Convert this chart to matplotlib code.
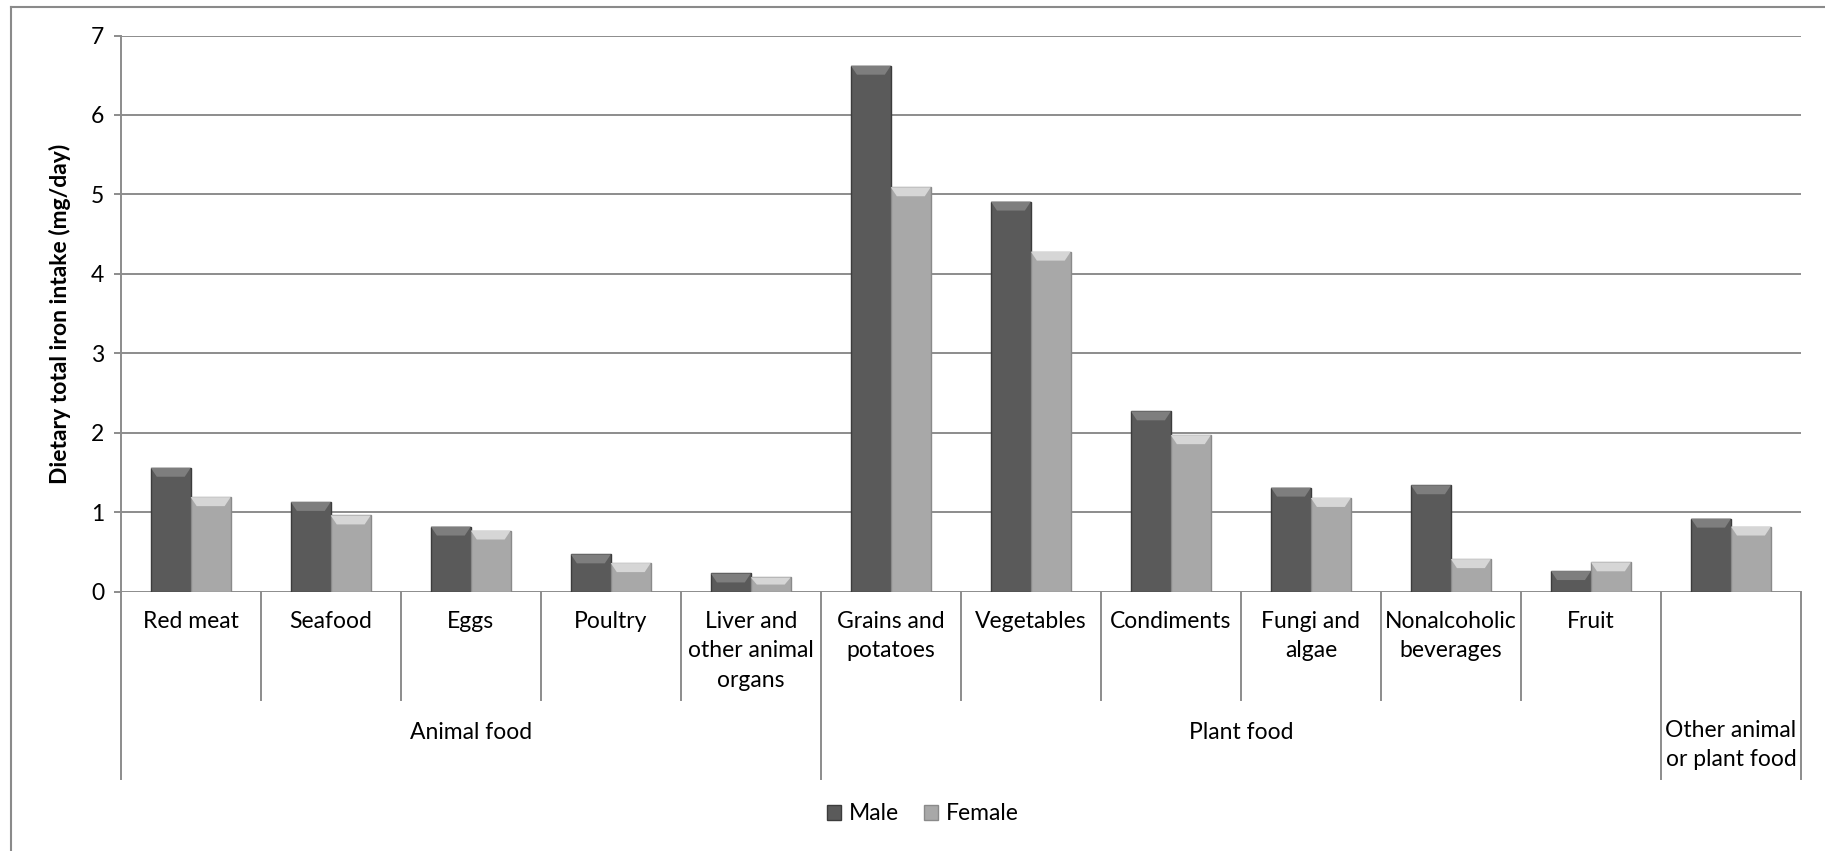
import numpy as np
import matplotlib.pyplot as plt
from matplotlib.patches import Patch, Polygon
from matplotlib.lines import Line2D

plt.rcParams['font.family'] = ['Lato', 'DejaVu Sans']

# Iron intake by food source (mg/day)
categories = ['Red meat', 'Seafood', 'Eggs', 'Poultry', 'Liver and\nother animal\norgans',
              'Grains and\npotatoes', 'Vegetables', 'Condiments', 'Fungi and\nalgae',
              'Nonalcoholic\nbeverages', 'Fruit', '']
male = [1.56, 1.13, 0.82, 0.47, 0.23, 6.62, 4.91, 2.27, 1.31, 1.34, 0.26, 0.92]
female = [1.19, 0.96, 0.77, 0.36, 0.18, 5.09, 4.28, 1.97, 1.18, 0.41, 0.37, 0.82]
groups = ['Animal food', 'Plant food', 'Other animal\nor plant food']
group_sizes = [5, 6, 1]
y_ticks = [0, 1, 2, 3, 4, 5, 6, 7]

FS = 16.5
W, H = 1825, 851
fig = plt.figure(figsize=(W / 100, H / 100), dpi=100)
ax = fig.add_axes([120.7 / W, 1 - 591.7 / H, (1801 - 120.7) / W, (591.7 - 35.5) / H])

grid_c = '#8c8c8c'
x = np.arange(len(categories))
bw = 0.285

def bevel_bars(xs, vals, face, edge, top):
    bars = ax.bar(xs, vals, bw, color=face, edgecolor=edge, linewidth=1.0, zorder=3)
    # lighter bevel on the top face of each bar
    bh = 9 / 79.5
    inset = 6 / 140.2
    for b in bars:
        x0 = b.get_x()
        x1 = x0 + b.get_width()
        t = b.get_height()
        h = min(bh, t * 0.5)
        ax.add_patch(Polygon([(x0, t), (x1, t), (x1 - inset, t - h), (x0 + inset, t - h)],
                             closed=True, facecolor=top, edgecolor='none', zorder=4))
    return bars

bevel_bars(x - bw / 2, male, '#5a5a5a', '#3c3c3c', '#7e7e7e')
bevel_bars(x + bw / 2, female, '#a8a8a8', '#8a8a8a', '#d6d6d6')

ax.set_xlim(-0.5, len(categories) - 0.5)
ax.set_ylim(0, 7)
ax.set_yticks(y_ticks)
ax.set_yticklabels([str(v) for v in y_ticks], fontsize=FS)
ax.yaxis.grid(True, color=grid_c, linewidth=1.4, zorder=0)
ax.set_axisbelow(True)
ax.set_xticks([])
for s in ['top', 'right', 'bottom']:
    ax.spines[s].set_visible(False)
ax.spines['left'].set_color(grid_c)
ax.spines['left'].set_linewidth(1.4)
ax.tick_params(axis='y', direction='out', length=5, width=1.4, color=grid_c, pad=7)
ax.set_ylabel('Dietary total iron intake (mg/day)', fontsize=FS, fontweight='bold', labelpad=14)

# multi-level category axis below the plot
ax_h = 591.7 - 35.5
def below(px):
    return -px / ax_h

tr = ax.get_xaxis_transform()
bounds = np.cumsum([0] + group_sizes)
for b in range(len(categories) + 1):
    end = 187 if b in bounds else 108
    ax.plot([b - 0.5, b - 0.5], [0, below(end)], transform=tr, color=grid_c,
            linewidth=1.4, clip_on=False)

for i, lab in enumerate(categories):
    ax.text(i, below(19), lab, transform=tr, ha='center', va='top', fontsize=FS,
            linespacing=1.5, clip_on=False)

for g, lab in enumerate(groups):
    mid = (bounds[g] + bounds[g + 1] - 1) / 2
    ax.text(mid, below(141 if '\n' not in lab else 128), lab, transform=tr,
            ha='center', va='center' if '\n' not in lab else 'top', fontsize=FS,
            linespacing=1.5, clip_on=False)

handles = [Patch(facecolor='#5a5a5a', edgecolor='#3c3c3c', label='Male'),
           Patch(facecolor='#a8a8a8', edgecolor='#8a8a8a', label='Female')]
fig.legend(handles=handles, loc='center', bbox_to_anchor=(923 / W, 1 - 814 / H), ncol=2,
           frameon=False, fontsize=FS, handlelength=0.6, handleheight=0.6,
           handletextpad=0.35, columnspacing=1.1)

# outer chart border
fig.add_artist(Line2D([11 / W, 11 / W], [0, 1 - 7 / H], color='#8a8a8a', linewidth=1.5))
fig.add_artist(Line2D([11 / W, 1], [1 - 7 / H, 1 - 7 / H], color='#8a8a8a', linewidth=1.5))

fig.savefig('out.png', dpi=100, facecolor='white')
